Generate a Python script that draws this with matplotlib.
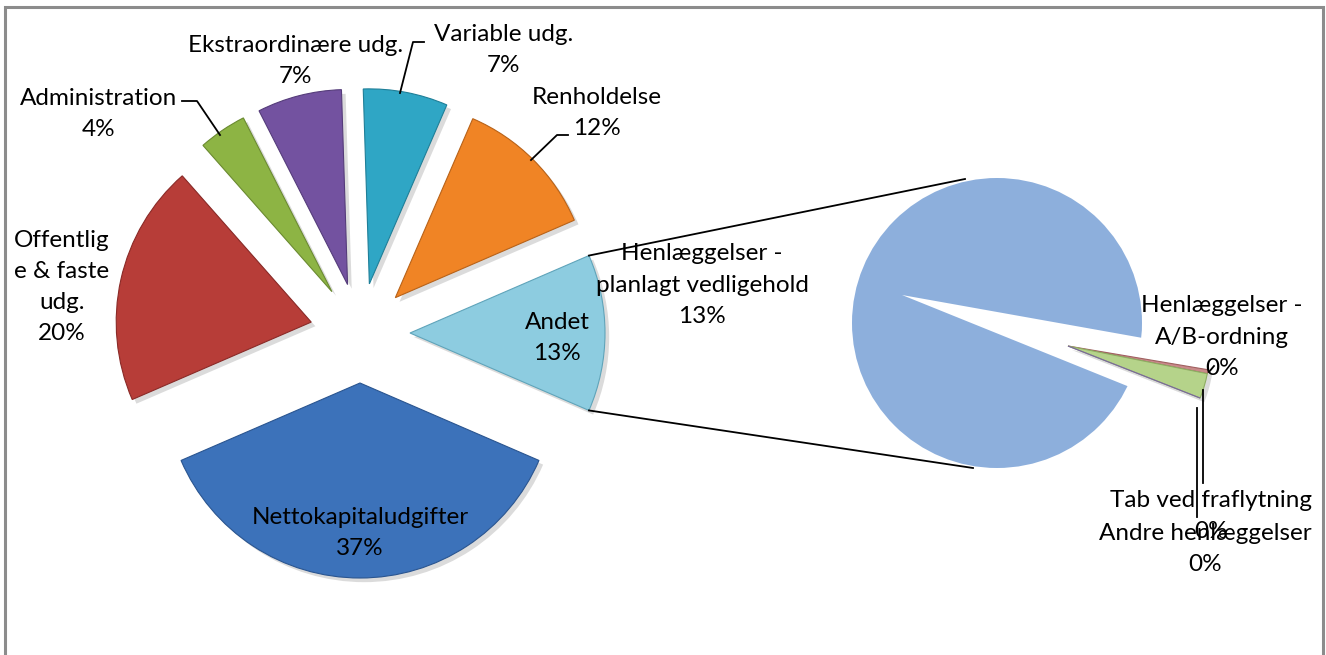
import numpy as np
import matplotlib
matplotlib.use('Agg')
import matplotlib.pyplot as plt
import matplotlib.patheffects as pe
from matplotlib.patches import Circle, Rectangle

plt.rcParams['font.family'] = ['Lato', 'DejaVu Sans']

# main pie (Excel order, clockwise)
kategorier = ['Nettokapitaludgifter', 'Offentlig\ne & faste\nudg.', 'Administration',
              'Ekstraordinære udg.', 'Variable udg.', 'Renholdelse', 'Andet']
andele = [37, 20, 4, 7, 7, 12, 13]
farver = ['#3C72BA', '#B73D38', '#8DB444', '#7352A0', '#2FA6C5', '#F08425', '#8DCCE0']
kanter = ['#2A5590', '#8A2A27', '#6A8A30', '#553C7A', '#1F7F98', '#B86218', '#5FA4BA']

# secondary pie ("Andet" split)
under_kat = ['Henlæggelser -\nplanlagt vedligehold', 'Henlæggelser -\nA/B-ordning',
             'Tab ved fraflytning', 'Andre henlæggelser']
under_andele = [12.9, 0.06, 0.38, 0.0]
under_farver = ['#8DAFDC', '#C98A8A', '#B5D38A', '#9B86C0']
under_kanter = ['#6D8EBB', '#A06060', '#8EAE62', '#7A66A0']

H = 655
fig = plt.figure(figsize=(13.26, 6.55), dpi=100)
ax = fig.add_axes([0, 0, 1, 1])

skygge = [pe.SimplePatchShadow(offset=(3, -3), shadow_rgbFace='#999999', alpha=0.35), pe.Normal()]

# main pie, every slice pulled out by the same distance (in pixels here)
c_main = (360, H - 333)
r_main = 195
wedges, _ = ax.pie(andele, colors=farver, startangle=-23.4, counterclock=False,
                   explode=[50] * len(andele), radius=r_main, center=c_main,
                   wedgeprops=dict(linewidth=0.8))
for w, k in zip(wedges, kanter):
    w.set_edgecolor(k)
    w.set_path_effects(skygge)

# secondary pie: big slice with notch drawn from a shifted centre, clipped to the disc
c_sec = (997, H - 323)
r_sec = 145
klip = Circle(c_sec, r_sec, transform=ax.transData)
bw, _ = ax.pie(under_andele, colors=[under_farver[0], 'none', 'none', 'none'],
               startangle=-22, counterclock=False, radius=260, center=(902, H - 295),
               wedgeprops=dict(linewidth=0))
bw[0].set_clip_on(True)
bw[0].set_clip_path(klip)

# small slices, exploded to the right
sw, _ = ax.pie(under_andele, colors=['none'] + under_farver[1:], startangle=-21.5,
               counterclock=False, radius=142, center=(1068, H - 346),
               wedgeprops=dict(linewidth=0.8))
for w, k in zip(sw[1:], under_kanter[1:]):
    w.set_edgecolor(k)
    w.set_path_effects(skygge)

# connector lines from "Andet" to the secondary pie
andet = wedges[-1]
cx, cy = andet.center
th1, th2 = np.deg2rad(andet.theta1), np.deg2rad(andet.theta2)
p_top = (cx + r_main * np.cos(th2), cy + r_main * np.sin(th2))
p_bot = (cx + r_main * np.cos(th1), cy + r_main * np.sin(th1))
ax.plot([p_top[0], 965], [p_top[1], H - 179], color='black', lw=1.3)
ax.plot([p_bot[0], 973], [p_bot[1], H - 468], color='black', lw=1.3)

fs = 17.5
ls = 1.6
def lab(x, y, s):
    ax.text(x, H - y, s, ha='center', va='center', fontsize=fs, linespacing=ls, color='black')

lab(360, 533, f'{kategorier[0]}\n{andele[0]}%')
lab(62, 287, f'{kategorier[1]}\n{andele[1]}%')
lab(99, 114, f'{kategorier[2]}\n{andele[2]}%')
lab(296, 61, f'{kategorier[3]}\n{andele[3]}%')
lab(504, 50, f'{kategorier[4]}\n{andele[4]}%')
lab(597, 113, f'{kategorier[5]}\n{andele[5]}%')
lab(557, 338, f'{kategorier[6]}\n{andele[6]}%')

lab(702, 285, f'{under_kat[0]}\n{under_andele[0]:.0f}%')
lab(1222, 337, f'{under_kat[1]}\n{under_andele[1]:.0f}%')
lab(1211, 516, f'{under_kat[2]}\n{under_andele[2]:.0f}%')
lab(1205, 549, f'{under_kat[3]}\n{under_andele[3]:.0f}%')

# leader lines
ledere = [
    [(182, 101), (197, 101), (220, 135)],
    [(424, 42), (413, 42), (400, 93)],
    [(568, 135), (557, 135), (531, 160)],
    [(1214, 366), (1209, 372)],
    [(1203, 390), (1203, 483)],
    [(1197, 408), (1197, 517)],
]
for pts in ledere:
    xs = [p[0] for p in pts]
    ys = [H - p[1] for p in pts]
    ax.plot(xs, ys, color='black', lw=1.3)

# chart frame
ax.add_patch(Rectangle((5, -10), 1318, H - 7 + 10, facecolor='none', edgecolor='#8C8C8C', lw=2.2))

ax.set_xlim(0, 1326)
ax.set_ylim(0, H)
ax.set_aspect('equal')
ax.axis('off')

plt.savefig('out.png', dpi=100)
